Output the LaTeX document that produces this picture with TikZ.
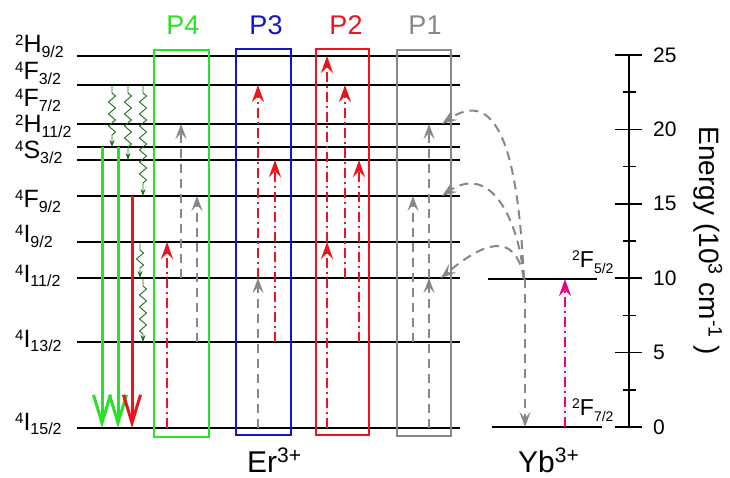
\documentclass[tikz,border=0pt]{standalone}
\usepackage{fontspec}
\setmainfont{Liberation Sans}
\usetikzlibrary{arrows.meta, decorations.pathmorphing}

\definecolor{pgreen}{RGB}{40,225,40}
\definecolor{pblue}{RGB}{20,20,200}
\definecolor{pred}{RGB}{235,20,30}
\definecolor{pgray}{RGB}{135,135,135}
\definecolor{wavy}{RGB}{25,110,25}
\definecolor{ybpink}{RGB}{235,0,135}

\newcommand{\term}[3]{\raisebox{7pt}{\fontsize{15}{15}\selectfont #1}#2\raisebox{-4.5pt}{\fontsize{16}{16}\selectfont #3}}
\newcommand{\ybterm}[3]{\raisebox{7pt}{\fontsize{14}{14}\selectfont #1}#2\raisebox{-6pt}{\fontsize{14}{14}\selectfont #3}}

\begin{document}
\begin{tikzpicture}[x = 1pt, y = -1pt,
    lvline/.style = {line width = 1.5pt},
    lvtext/.style = {inner sep = 0pt, font = \fontsize{25}{30}\selectfont},
    ybtext/.style = {inner sep = 0pt, font = \fontsize{23}{26}\selectfont},
    pbox/.style   = {line width = 1.5pt},
    ptext/.style  = {inner sep = 0pt, font = \fontsize{27}{30}\selectfont},
    ticktext/.style = {inner sep = 0pt, font = \fontsize{21}{24}\selectfont},
    iontext/.style  = {inner sep = 0pt, font = \fontsize{30}{34}\selectfont},
    upred/.style  = {pred, line width = 2.2pt, dash pattern = on 10pt off 4pt on 2pt off 4pt,
                     -{Stealth[length = 17pt, width = 12pt, inset = 6pt]}},
    uppink/.style = {ybpink, line width = 2.2pt, dash pattern = on 10pt off 4pt on 2pt off 4pt,
                     -{Stealth[length = 17pt, width = 12pt, inset = 6pt]}},
    upgray/.style = {pgray, line width = 2pt, dash pattern = on 9pt off 6pt,
                     -{Stealth[length = 15pt, width = 11pt, inset = 6pt]}},
    emit/.style   = {line width = 3pt, -{Straight Barb[length = 28pt, width = 17pt]}},
    nonrad/.style = {wavy, line width = 0.9pt, decorate,
                     decoration = {zigzag, amplitude = 3.5pt, segment length = 12pt,
                                   pre length = 8pt, post length = 8pt},
                     -{Stealth[length = 7pt, width = 5pt]}}
  ]
  \useasboundingbox (0,0) rectangle (730,478);

  % Er3+ levels
  \coordinate (H92)  at (77,  56);
  \coordinate (F32)  at (77,  85);
  \coordinate (F72)  at (77, 124);
  \coordinate (H112) at (77, 147);
  \coordinate (S32)  at (77, 160);
  \coordinate (F92)  at (77, 196);
  \coordinate (I92)  at (77, 242);
  \coordinate (I112) at (77, 278);
  \coordinate (I132) at (77, 342);
  \coordinate (I152) at (77, 428);

  \draw[lvline] (H92)  -- ++(383,0);
  \draw[lvline] (F32)  -- ++(383,0);
  \draw[lvline] (F72)  -- ++(383,0);
  \draw[lvline] (H112) -- ++(383,0);
  \draw[lvline] (S32)  -- ++(383,0);
  \draw[lvline] (F92)  -- ++(383,0);
  \draw[lvline] (I92)  -- ++(383,0);
  \draw[lvline] (I112) -- ++(383,0);
  \draw[lvline] (I132) -- ++(383,0);
  \draw[lvline] (I152) -- ++(383,0);

  \node[lvtext, anchor = base west] at (15,  53) (tH92)  {\term{2}{H}{9/2}};
  \node[lvtext, anchor = base west] at (15,  80) (tF32)  {\term{4}{F}{3/2}};
  \node[lvtext, anchor = base west] at (15, 107) (tF72)  {\term{4}{F}{7/2}};
  \node[lvtext, anchor = base west] at (15, 133) (tH112) {\term{2}{H}{11/2}};
  \node[lvtext, anchor = base west] at (15, 159) (tS32)  {\term{4}{S}{3/2}};
  \node[lvtext, anchor = base west] at (15, 208) (tF92)  {\term{4}{F}{9/2}};
  \node[lvtext, anchor = base west] at (15, 243) (tI92)  {\term{4}{I}{9/2}};
  \node[lvtext, anchor = base west] at (15, 282) (tI112) {\term{4}{I}{11/2}};
  \node[lvtext, anchor = base west] at (15, 347) (tI132) {\term{4}{I}{13/2}};
  \node[lvtext, anchor = base west] at (15, 430) (tI152) {\term{4}{I}{15/2}};

  % process boxes
  \draw[pbox, pgreen] (154,50) rectangle (209,437);
  \draw[pbox, pblue]  (236,49) rectangle (291,435);
  \draw[pbox, pred]   (316,49) rectangle (369,435);
  \draw[pbox, pgray]  (397,50) rectangle (451,436);

  \node[ptext, pgreen] at (183,25) (P4) {P4};
  \node[ptext, pblue]  at (266,25) (P3) {P3};
  \node[ptext, pred]   at (346,25) (P2) {P2};
  \node[ptext, pgray]  at (425,25) (P1) {P1};

  % emission and relaxation
  \draw[emit, pgreen] (102,0 |- H112) -- (102,0 |- I152);
  \draw[emit, pgreen] (118,0 |- H112) -- (118,0 |- I152);
  \draw[emit, pred]   (132,0 |- F92)  -- (132,0 |- I152);

  \draw[nonrad] (112,0 |- F32)  -- (112,0 |- H112);
  \draw[nonrad] (128,0 |- F32)  -- (128,0 |- S32);
  \draw[nonrad] (143,0 |- F32)  -- (143,0 |- F92);
  \draw[nonrad] (140,0 |- I92)  -- (140,0 |- I112);
  \draw[nonrad] (143,0 |- I112) -- (143,0 |- I132);

  % P4
  \draw[upred]  (167,0 |- I152) -- (167,0 |- I92);
  \draw[upgray] (181,0 |- I112) -- (181,0 |- F72);
  \draw[upgray] (197,0 |- I132) -- (197,0 |- F92);
  % P3
  \draw[upgray] (258,0 |- I152) -- (258,0 |- I112);
  \draw[upred]  (258,0 |- I112) -- (258,0 |- F32);
  \draw[upred]  (275,0 |- I132) -- (275,0 |- S32);
  % P2
  \draw[upred]  (327,0 |- I152) -- (327,0 |- I92);
  \draw[upred]  (327,0 |- I92)  -- (327,0 |- H92);
  \draw[upred]  (345,0 |- I112) -- (345,0 |- F32);
  \draw[upred]  (359,0 |- I132) -- (359,0 |- S32);
  % P1
  \draw[upgray] (413,0 |- I132) -- (413,0 |- F92);
  \draw[upgray] (429,0 |- I152) -- (429,0 |- I112);
  \draw[upgray] (429,0 |- I112) -- (429,0 |- F72);

  % Yb3+ levels
  \coordinate (Yb52) at (488,279);
  \coordinate (Yb72) at (492,427);
  \draw[lvline] (Yb52) -- ++(109,0);
  \draw[lvline] (Yb72) -- ++(110,0);
  \node[ybtext, anchor = base west] at (572,267) (tYb52) {\ybterm{2}{F}{5/2}};
  \node[ybtext, anchor = base west] at (572,415) (tYb72) {\ybterm{2}{F}{7/2}};

  \draw[upgray] (525,0 |- Yb52) -- (525,0 |- Yb72);
  \draw[uppink] (565,0 |- Yb72) -- (565,0 |- Yb52);

  % energy transfer
  \draw[upgray] (524,0 |- Yb52) to[out = 93, in = 35, looseness = 1.2] (442,0 |- F72);
  \draw[upgray] (524,0 |- Yb52) to[out = 95, in = 35, looseness = 1.3] (442,0 |- F92);
  \draw[upgray] (524,0 |- Yb52) to[out = 100, in = 40, looseness = 1.6] (441,0 |- I112);

  \node[iontext, anchor = base west] at (247,472) (Er) {Er\textsuperscript{3+}};
  \node[iontext, anchor = base west] at (518,472) (Yb) {Yb\textsuperscript{3+}};

  % energy axis
  \draw[lvline] (629,55) -- (629,427);
  \draw[lvline] (615,427)   -- (642,427);
  \draw[lvline] (623,389.8) -- (636,389.8);
  \draw[lvline] (615,352.6) -- (642,352.6);
  \draw[lvline] (623,315.4) -- (636,315.4);
  \draw[lvline] (615,278.2) -- (642,278.2);
  \draw[lvline] (623,241)   -- (636,241);
  \draw[lvline] (615,203.8) -- (642,203.8);
  \draw[lvline] (623,166.6) -- (636,166.6);
  \draw[lvline] (615,129.4) -- (642,129.4);
  \draw[lvline] (623,92.2)  -- (636,92.2);
  \draw[lvline] (615,55)    -- (642,55);

  \node[ticktext, anchor = west] at (653,427)   (n0)  {0};
  \node[ticktext, anchor = west] at (653,352.6) (n5)  {5};
  \node[ticktext, anchor = west] at (653,278.2) (n10) {10};
  \node[ticktext, anchor = west] at (653,203.8) (n15) {15};
  \node[ticktext, anchor = west] at (653,129.4) (n20) {20};
  \node[ticktext, anchor = west] at (653,55)    (n25) {25};

  \node[rotate = -90, font = \fontsize{28}{32}\selectfont] at (708,241) (title)
    {Energy (10\textsuperscript{3} cm\textsuperscript{-1} )};
\end{tikzpicture}
\end{document}
